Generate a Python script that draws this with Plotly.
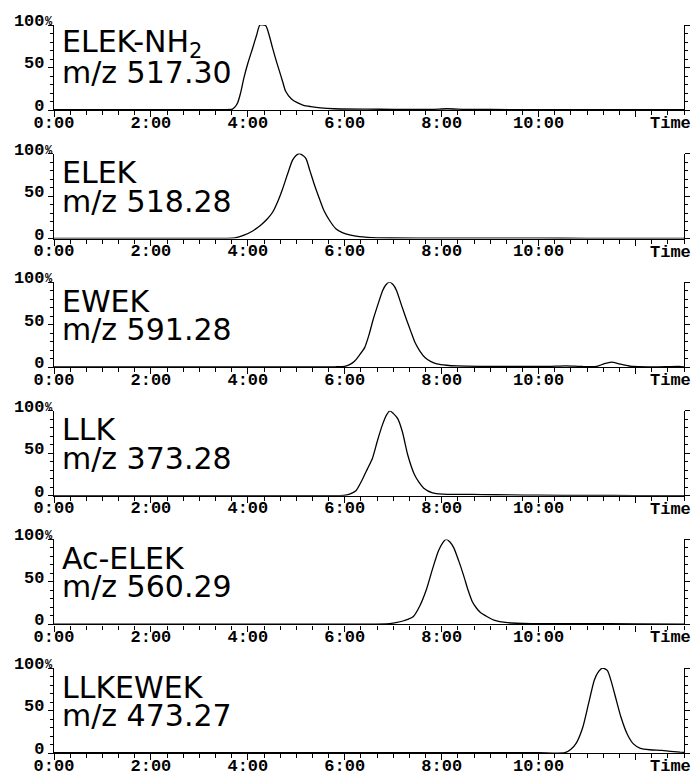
import plotly.graph_objects as go

# ---------------- data ----------------
TIME_TICKS = [0, 2, 4, 6, 8, 10, 12]
TIME_LABELS = ["0:00", "2:00", "4:00", "6:00", "8:00", "10:00", ""]
PCT_TICKS = [0, 50, 100]
PCT_LABELS = ["0", "50", "100"]

peptides = ["ELEK-NH<sub>2</sub>", "ELEK", "EWEK", "LLK", "Ac-ELEK", "LLKEWEK"]
mz_labels = ["m/z 517.30", "m/z 518.28", "m/z 591.28", "m/z 373.28", "m/z 560.29", "m/z 473.27"]

t_elek_nh2 = [0, 1, 2, 3, 3.5, 3.68, 3.74, 3.79, 3.85, 3.92, 4.0, 4.1, 4.18, 4.25, 4.37, 4.44, 4.51,
              4.58, 4.65, 4.72, 4.78, 4.9, 5.02, 5.15, 5.3, 5.5, 5.78, 6.47, 7.0, 7.8, 8.1, 8.5,
              9.5, 10.5, 11.5, 12.5, 13]
i_elek_nh2 = [0.3, 0.3, 0.3, 0.3, 0.5, 1, 4, 8.6, 20, 38, 55, 73, 88, 100, 99, 88, 73,
              59, 46, 33, 22, 13, 8.6, 5.5, 4, 2.5, 1.5, 1, 0.8, 0.8, 1.5, 0.8,
              0.5, 0.3, 0.3, 0.3, 0.3]

t_elek = [0, 1, 2, 3, 3.68, 3.8, 3.92, 4.1, 4.27, 4.4, 4.51, 4.62, 4.72, 4.82, 4.92, 5.0, 5.06,
          5.13, 5.2, 5.28, 5.37, 5.47, 5.57, 5.69, 5.81, 5.95, 6.12, 6.3, 6.47, 6.95, 8, 9, 10,
          11, 12, 13]
i_elek = [0.3, 0.3, 0.3, 0.3, 0.5, 1.8, 4, 9, 16, 23, 31, 44, 59, 76, 92, 98, 100,
          98, 94, 80, 64, 48, 33, 21, 12, 7, 4, 2.3, 1.5, 0.7, 0.5, 0.5, 0.5,
          0.3, 0.3, 0.3]

t_ewek = [0, 1, 2, 3, 4, 5, 5.8, 6.0, 6.1, 6.2, 6.3, 6.41, 6.5, 6.58, 6.68, 6.78, 6.85, 6.92,
          7.0, 7.07, 7.17, 7.28, 7.37, 7.45, 7.55, 7.66, 7.78, 7.9, 8.1, 8.32, 8.8, 9.5, 10.2,
          10.56, 10.9, 11.2, 11.35, 11.5, 11.7, 11.95, 12.4, 12.9, 13]
i_ewek = [0.3, 0.3, 0.3, 0.3, 0.3, 0.3, 0.5, 1, 3, 7, 14, 23, 38, 55, 73, 90, 97, 100,
          97, 90, 73, 55, 41, 29, 19, 11, 6.5, 4, 2.3, 1.5, 1, 0.8, 1,
          1.6, 0.8, 1, 4, 6, 3.5, 0.8, 0.5, 1, 0.5]

t_llk = [0, 1, 2, 3, 4, 5, 5.5, 5.98, 6.1, 6.23, 6.37, 6.47, 6.57, 6.68, 6.78, 6.86, 6.93, 7.0,
         7.09, 7.19, 7.3, 7.43, 7.53, 7.63, 7.81, 8.02, 8.4, 8.84, 9.4, 10, 11, 12, 13]
i_llk = [0.3, 0.3, 0.3, 0.3, 0.3, 0.3, 0.3, 0.5, 2, 6, 20, 32, 44, 66, 84, 95, 100, 97,
         91, 75, 48, 26, 16, 9, 3.5, 2, 1.7, 1.5, 1, 0.7, 0.5, 0.3, 0.3]

t_ac_elek = [0, 1, 2, 3, 4, 5, 6, 6.5, 6.92, 7.08, 7.2, 7.3, 7.41, 7.55, 7.69, 7.81, 7.93, 8.02,
             8.09, 8.17, 8.25, 8.35, 8.45, 8.54, 8.63, 8.72, 8.8, 8.94, 9.08, 9.36, 9.85, 10.9,
             12, 13]
i_ac_elek = [0.3, 0.3, 0.3, 0.3, 0.3, 0.3, 0.3, 0.3, 1, 2.3, 4, 6, 9, 22, 42, 65, 86, 96,
             100, 97, 90, 75, 58, 41, 27, 19, 14, 9, 5, 2, 1, 1, 0.5, 0.3]

t_llkewek = [0, 1, 2, 3, 4, 5, 6, 7, 8, 9, 10, 10.54, 10.66, 10.78, 10.91, 11.03, 11.15, 11.24,
             11.32, 11.42, 11.5, 11.59, 11.7, 11.83, 11.95, 12.1, 12.3, 12.54, 12.92, 13]
i_llkewek = [0.3, 0.3, 0.3, 0.3, 0.3, 0.3, 0.3, 0.3, 0.3, 0.3, 0.3, 0.3, 4, 12, 30, 58, 86, 96,
             100, 97, 84, 65, 42, 22, 11, 5.5, 3.8, 3, 1, 0.8]

series = [
    (t_elek_nh2, i_elek_nh2),
    (t_elek, i_elek),
    (t_ewek, i_ewek),
    (t_llk, i_llk),
    (t_ac_elek, i_ac_elek),
    (t_llkewek, i_llkewek),
]

# ---------------- layout ----------------
W, H = 695, 775
X_LEFT, X_RIGHT = 54, 684
BOTTOM0, STEP, PANEL_H = 110, 128.6, 85

MONO = dict(family="Liberation Mono, Courier New, monospace", size=17, color="black", weight="bold")
SANS = dict(family="DejaVu Sans, Arial, sans-serif", size=30, color="black")

fig = go.Figure()
annotations = []
layout = dict(
    width=W, height=H,
    margin=dict(l=0, r=0, t=0, b=0, autoexpand=False),
    paper_bgcolor="white", plot_bgcolor="white",
    showlegend=False,
)

for k, (t, v) in enumerate(series):
    n = "" if k == 0 else str(k + 1)
    bottom = BOTTOM0 + k * STEP
    top = bottom - PANEL_H
    fig.add_trace(go.Scatter(
        x=t, y=v, mode="lines", xaxis="x" + n, yaxis="y" + n,
        line=dict(color="black", width=1.3, shape="spline", smoothing=0.6), hoverinfo="skip",
    ))
    layout["xaxis" + n] = dict(
        domain=[X_LEFT / W, X_RIGHT / W], range=[0, 13], anchor="y" + n,
        tickmode="array", tickvals=TIME_TICKS, ticktext=TIME_LABELS,
        ticks="outside", ticklen=6, tickwidth=1.2, tickcolor="black",
        showline=True, linecolor="black", linewidth=1.2, automargin=False,
        showgrid=False, zeroline=False, tickfont=MONO, fixedrange=True,
        ticklabelstandoff=-10,
        minor=dict(tickmode="linear", tick0=0, dtick=1 / 3, ticks="outside",
                   ticklen=4, tickwidth=1, tickcolor="black", showgrid=False),
    )
    layout["yaxis" + n] = dict(
        domain=[1 - bottom / H, 1 - top / H], range=[0, 100], anchor="x" + n,
        tickmode="array", tickvals=PCT_TICKS, ticktext=PCT_LABELS,
        ticks="outside", ticklen=5, tickwidth=1.2, tickcolor="black",
        showline=True, linecolor="black", linewidth=1.2, mirror="ticks",
        showgrid=False, zeroline=False, tickfont=MONO, ticklabelshift=-5,
        automargin=False, fixedrange=True,
        minor=dict(tickmode="linear", tick0=0, dtick=10, ticks="outside",
                   ticklen=3, tickwidth=1, tickcolor="black", showgrid=False),
    )
    xd = "x" + n + " domain"
    yd = "y" + n + " domain"
    annotations.append(dict(
        text=peptides[k], xref=xd, yref=yd, x=0, y=1 - 19 / PANEL_H,
        xanchor="left", yanchor="middle", xshift=6, showarrow=False, font=SANS,
    ))
    annotations.append(dict(
        text=mz_labels[k], xref=xd, yref=yd, x=0, y=1 - 47.5 / PANEL_H,
        xanchor="left", yanchor="middle", xshift=6, showarrow=False, font=SANS,
    ))
    annotations.append(dict(
        text="Time", xref="x" + n, yref=yd, x=12.72, y=0,
        xanchor="center", yanchor="top", yshift=-2, showarrow=False, font=MONO,
    ))
    annotations.append(dict(
        text="%", xref=xd, yref=yd, x=0, y=1,
        xanchor="right", yanchor="middle", xshift=1, yshift=3, showarrow=False,
        font=dict(family="Liberation Mono, Courier New, monospace", size=12, color="black", weight="bold"),
    ))

layout["annotations"] = annotations
fig.update_layout(**layout)
fig.write_html("out.html")
